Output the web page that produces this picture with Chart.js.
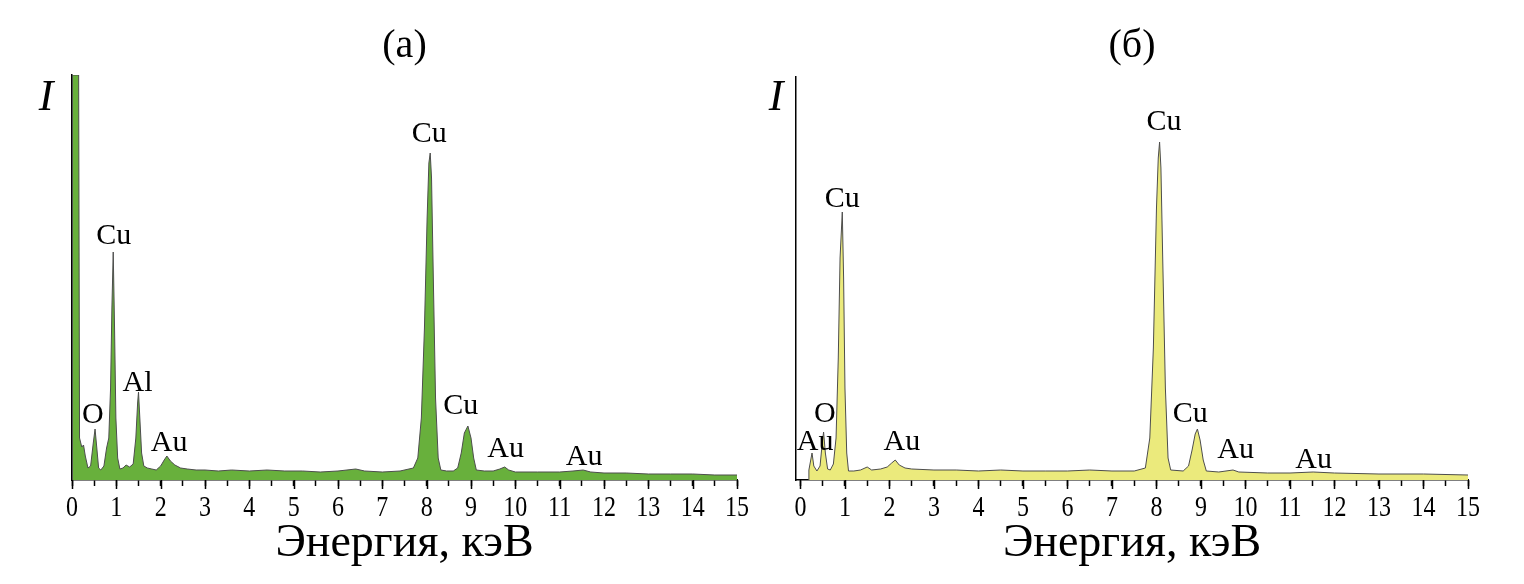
<!DOCTYPE html>
<html>
<head>
<meta charset="utf-8">
<title>ЭДС спектры</title>
<script src="https://cdn.jsdelivr.net/npm/chart.js@4.4.1/dist/chart.umd.min.js"></script>
<style>
  html, body { margin: 0; padding: 0; background: #fff; }
  .wrap { display: flex; width: 1524px; height: 584px; }
  canvas { display: block; }
</style>
</head>
<body>
<div class="wrap">
  <canvas id="chartA" width="762" height="584"></canvas>
  <canvas id="chartB" width="762" height="584"></canvas>
</div>
<script>
// Spectrum (а): energy, keV / intensity, arb. units
const energyA = [0.00, 0.01, 0.15, 0.17, 0.22, 0.26, 0.30, 0.36, 0.42, 0.48, 0.52, 0.56, 0.60, 0.65,
  0.72, 0.78, 0.83, 0.87, 0.90, 0.93, 0.96, 0.99, 1.03, 1.08, 1.15, 1.22, 1.30, 1.38, 1.44, 1.48, 1.50,
  1.53, 1.57, 1.62, 1.70, 1.80, 1.90, 2.00, 2.08, 2.14, 2.22, 2.32, 2.45, 2.60, 2.80, 3.00, 3.30, 3.60,
  4.00, 4.40, 4.80, 5.20, 5.60, 6.00, 6.40, 6.60, 7.00, 7.40, 7.70, 7.80, 7.88, 7.95, 8.01, 8.05, 8.08,
  8.11, 8.15, 8.20, 8.26, 8.32, 8.45, 8.60, 8.70, 8.78, 8.85, 8.93, 9.00, 9.06, 9.12, 9.30, 9.50, 9.65,
  9.76, 9.85, 10.00, 10.50, 11.00, 11.30, 11.53, 11.70, 12.00, 12.50, 13.00, 13.50, 14.00, 14.50, 15.00];
const intensityA = [0, 405, 405, 42, 33, 35, 24, 12, 14, 37, 51, 32, 12, 10,
  14, 32, 42, 92, 172, 228, 152, 62, 22, 11, 12, 15, 13, 16, 42, 77, 88,
  62, 27, 14, 12, 11, 10, 14, 20, 24, 19, 15, 12, 11, 10, 10, 9, 10,
  9, 10, 9, 9, 8, 9, 11, 9, 8, 9, 12, 22, 62, 152, 262, 317, 327,
  302, 202, 82, 22, 10, 9, 9, 12, 27, 47, 54, 42, 22, 10, 9, 9, 11,
  13, 10, 8, 8, 8, 9, 10, 8, 7, 7, 6, 6, 6, 5, 5];

// Spectrum (б)
const energyB = [0.17, 0.19, 0.26, 0.30, 0.37, 0.44, 0.49, 0.52, 0.56, 0.61, 0.67, 0.74, 0.80, 0.85, 0.89,
  0.94, 0.97, 1.00, 1.04, 1.08, 1.20, 1.35, 1.50, 1.60, 1.80, 1.95, 2.05, 2.13, 2.22, 2.35, 2.50, 3.00,
  3.50, 4.00, 4.50, 5.00, 5.50, 6.00, 6.50, 7.00, 7.50, 7.75, 7.85, 7.93, 8.00, 8.04, 8.07, 8.10, 8.14,
  8.20, 8.26, 8.32, 8.60, 8.72, 8.80, 8.87, 8.92, 8.98, 9.05, 9.12, 9.40, 9.72, 9.85, 10.50, 11.00, 11.52,
  12.00, 13.00, 14.00, 15.00];
const intensityB = [0, 10, 27, 14, 9, 14, 37, 48, 27, 11, 10, 16, 42, 122, 222,
  268, 202, 92, 27, 9, 9, 10, 13, 10, 11, 13, 17, 20, 15, 12, 11, 10,
  10, 9, 10, 9, 9, 9, 10, 9, 9, 12, 42, 132, 272, 322, 338, 312, 222,
  92, 22, 10, 9, 14, 30, 46, 51, 40, 20, 9, 8, 10, 8, 7, 7, 8,
  7, 6, 6, 5];

// Peak labels: text, energy, intensity level of the label
const peakTextA = ['O', 'Cu', 'Al', 'Au', 'Cu', 'Cu', 'Au', 'Au'];
const peakEnergyA = [0.47, 0.94, 1.48, 2.19, 8.06, 8.77, 9.78, 11.55];
const peakLevelA = [65, 244, 97, 37, 346, 74, 31, 23];

const peakTextB = ['Au', 'O', 'Cu', 'Au', 'Cu', 'Cu', 'Au', 'Au'];
const peakEnergyB = [0.33, 0.55, 0.94, 2.28, 8.17, 8.76, 9.78, 11.53];
const peakLevelB = [38, 66, 281, 38, 358, 66, 30, 20];

const serif = '"Liberation Serif", "Times New Roman", serif';

const decorPlugin = {
  id: 'decor',
  afterDraw(chart, args, opts) {
    const { ctx, chartArea } = chart;
    const xs = chart.scales.x, ys = chart.scales.y;
    ctx.save();
    ctx.strokeStyle = '#000';
    ctx.fillStyle = '#000';
    ctx.lineWidth = 1.5;
    ctx.textAlign = 'center';
    // longer ticks and narrow tick labels at whole keV
    ctx.font = '30px ' + serif;
    ctx.textBaseline = 'alphabetic';
    xs.ticks.forEach(t => {
      if (!Number.isInteger(t.value)) return;
      const px = xs.getPixelForValue(t.value);
      const sx = Math.round(px) + 0.5;
      ctx.beginPath();
      ctx.moveTo(sx, chartArea.bottom);
      ctx.lineTo(sx, chartArea.bottom + 9);
      ctx.stroke();
      ctx.save();
      ctx.translate(px, chartArea.bottom + 36);
      ctx.scale(0.8, 1);
      ctx.fillText(String(t.value), 0, 0);
      ctx.restore();
    });
    ctx.textBaseline = 'middle';
    // peak labels
    ctx.font = '30px ' + serif;
    opts.text.forEach((t, i) => {
      ctx.fillText(t, xs.getPixelForValue(opts.energy[i]), ys.getPixelForValue(opts.level[i]));
    });
    // panel title
    ctx.font = '40px ' + serif;
    ctx.fillText(opts.title, (chartArea.left + chartArea.right) / 2, 46);
    // intensity label
    ctx.font = 'italic 44px ' + serif;
    ctx.fillText('I', chartArea.left + opts.iOffset, 98);
    ctx.restore();
  }
};

function makeChart(id, energy, intensity, fillColor, yMax, xMin, pad, labels) {
  const points = energy.map((e, i) => ({ x: e, y: intensity[i] }));
  return new Chart(document.getElementById(id), {
    type: 'line',
    data: {
      datasets: [{
        data: points,
        borderColor: '#4d4d4d',
        borderWidth: 1,
        backgroundColor: fillColor,
        fill: 'origin',
        pointRadius: 0,
        tension: 0
      }]
    },
    options: {
      responsive: false,
      animation: false,
      events: [],
      layout: { padding: pad },
      plugins: {
        legend: { display: false },
        tooltip: { enabled: false },
        decor: labels
      },
      scales: {
        x: {
          type: 'linear',
          min: xMin,
          max: 15,
          afterBuildTicks(scale) {
            const t = [];
            for (let i = 0; i <= 30; i++) t.push({ value: i / 2 });
            scale.ticks = t;
          },
          afterFit(scale) {
            scale.height = 104;
            scale.paddingLeft = 0;
            scale.paddingRight = 0;
          },
          border: { display: true, color: '#000', width: 1.5 },
          grid: { display: true, drawOnChartArea: false, drawTicks: true, tickLength: 6, tickColor: '#000', tickWidth: 1.5 },
          ticks: {
            autoSkip: false,
            maxRotation: 0,
            padding: 6,
            color: '#000',
            font: { family: serif, size: 29 },
            callback: () => ''
          },
          title: {
            display: true,
            text: 'Энергия, кэВ',
            color: '#000',
            font: { family: serif, size: 46 },
            padding: { top: 0, bottom: 12 }
          }
        },
        y: {
          min: 0,
          max: yMax,
          afterFit(scale) {
            scale.width = 0;
            scale.paddingTop = 0;
            scale.paddingBottom = 0;
          },
          border: { display: true, color: '#000', width: 1.5 },
          grid: { display: false },
          ticks: { display: false }
        }
      }
    },
    plugins: [decorPlugin]
  });
}

makeChart('chartA', energyA, intensityA, '#68b03c', 405, 0,
  { left: 72, right: 25, top: 75, bottom: 0 },
  { text: peakTextA, energy: peakEnergyA, level: peakLevelA, title: '(а)', iOffset: -26 });

makeChart('chartB', energyB, intensityB, '#ebea7c', 403, -0.1,
  { left: 34, right: 56, top: 77, bottom: 0 },
  { text: peakTextB, energy: peakEnergyB, level: peakLevelB, title: '(б)', iOffset: -20 });
</script>
</body>
</html>
